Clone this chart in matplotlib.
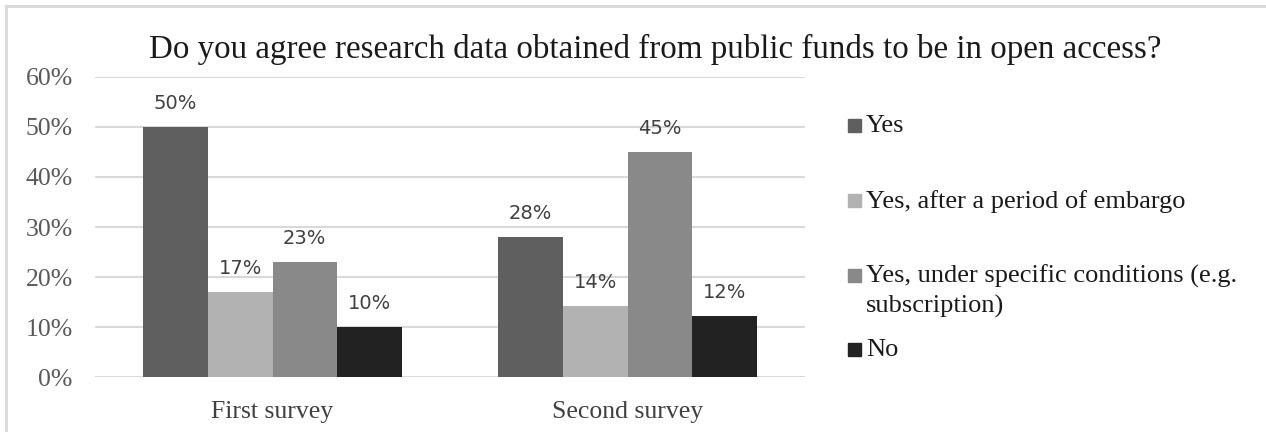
import matplotlib.pyplot as plt
from matplotlib.patches import Rectangle
from matplotlib.lines import Line2D
import numpy as np

# data
surveys = ['First survey', 'Second survey']
answers = ['Yes', 'Yes, after a period of embargo',
           'Yes, under specific conditions (e.g.\nsubscription)', 'No']
yes = [50, 28]
embargo = [17, 14.2]
conditions = [23, 45]
no = [10, 12.2]
colors = ['#5f5f5f', '#b2b2b2', '#898989', '#222222']

title = 'Do you agree research data obtained from public funds to be in open access?'

W, H = 1266, 432
fig = plt.figure(figsize=(W / 100, H / 100), dpi=100)

# axes placed in pixel terms
left, right, top, bottom = 95, 805, 76.7, 377.3
ax = fig.add_axes([left / W, (H - bottom) / H, (right - left) / W, (bottom - top) / H])

series = [yes, embargo, conditions, no]
x = np.arange(len(surveys))
bw = 0.182
for i, vals in enumerate(series):
    pos = x + (i - 1.5) * bw
    bars = ax.bar(pos, vals, bw, color=colors[i], zorder=3)
    for b, v in zip(bars, vals):
        ax.annotate('%d%%' % round(v), (b.get_x() + b.get_width() / 2, v),
                    xytext=(0, 10), textcoords='offset points',
                    ha='center', va='bottom', fontsize=14,
                    family='DejaVu Sans', color='#404040')

ax.set_xlim(-0.5, 1.5)
ax.set_ylim(0, 60)
ax.set_yticks(range(0, 61, 10))
ax.set_yticklabels(['%d%%' % t for t in range(0, 61, 10)],
                   family='Liberation Serif', fontsize=18.5, color='#595959')
ax.set_xticks(x)
ax.set_xticklabels(surveys, family='Liberation Serif', fontsize=18.5, color='#404040')
ax.tick_params(axis='both', length=0)
ax.tick_params(axis='x', pad=17)
ax.tick_params(axis='y', pad=16)
ax.grid(axis='y', color='#d9d9d9', lw=1.5, zorder=0)
for s in ax.spines.values():
    s.set_visible(False)

fig.text(655 / W, 1 - 49 / H, title, ha='center', va='center',
         family='Liberation Serif', fontsize=23.8, color='#1a1a1a')

# legend, drawn by hand to follow the reference spacing
leg_y = [125, 200, 275, 349]
for lab, col, yy in zip(answers, colors, leg_y):
    fig.add_artist(Rectangle((848 / W, 1 - (yy + 6.5) / H), 13 / W, 13 / H,
                             transform=fig.transFigure, color=col))
    fig.text(866 / W, 1 - (yy - 10) / H, lab, ha='left', va='top',
             family='Liberation Serif', fontsize=19, color='#1a1a1a',
             linespacing=1.35)

# frame lines at top and left
fig.add_artist(Line2D([6 / W, 1], [1 - 6 / H, 1 - 6 / H], color='#d9d9d9', lw=2,
                      transform=fig.transFigure))
fig.add_artist(Line2D([6 / W, 6 / W], [0, 1 - 6 / H], color='#d9d9d9', lw=2,
                      transform=fig.transFigure))

fig.savefig('out.png', dpi=100)
